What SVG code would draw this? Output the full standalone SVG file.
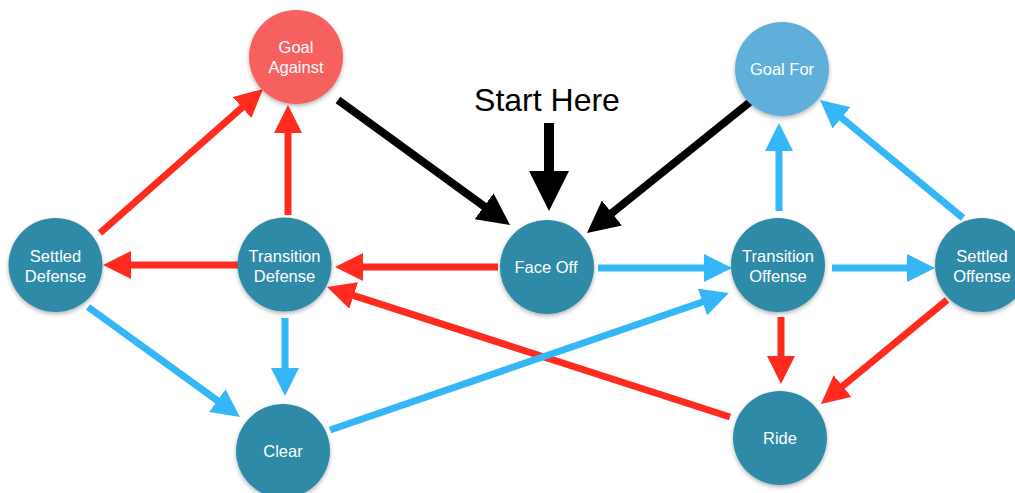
<svg xmlns="http://www.w3.org/2000/svg" width="1015" height="493" viewBox="0 0 1015 493">
<style>
.node{fill:#2f8aa7;filter:url(#sh)}
.lbl{font-family:"Liberation Sans",Arial,sans-serif;font-size:16.5px;fill:#fff;text-anchor:middle}
.red{stroke:#ff2b1f;stroke-width:7;fill:none;marker-end:url(#hr)}
.blue{stroke:#34b6f7;stroke-width:7;fill:none;marker-end:url(#hb)}
.blk{stroke:#000;stroke-width:8;fill:none;marker-end:url(#hk)}
</style>
<defs>
<filter id="sh" x="-20%" y="-20%" width="140%" height="150%">
<feDropShadow dx="0" dy="2" stdDeviation="2" flood-color="#000" flood-opacity="0.3"/>
</filter>
<marker id="hr" viewBox="0 0 4 4" refX="1" refY="2" markerWidth="4" markerHeight="4" markerUnits="strokeWidth" orient="auto"><path d="M0,0L4,2L0,4z" fill="#ff2b1f"/></marker>
<marker id="hb" viewBox="0 0 4 4" refX="1" refY="2" markerWidth="4" markerHeight="4" markerUnits="strokeWidth" orient="auto"><path d="M0,0L4,2L0,4z" fill="#34b6f7"/></marker>
<marker id="hk" viewBox="0 0 4 4" refX="1" refY="2" markerWidth="4" markerHeight="4" markerUnits="strokeWidth" orient="auto"><path d="M0,0L4,2L0,4z" fill="#000"/></marker>
</defs>
<g id="connectors">
<line class="red" x1="100" y1="233" x2="247.3" y2="102.9"/>
<line class="red" x1="288" y1="215" x2="288" y2="126"/>
<line class="red" x1="238" y1="265" x2="124" y2="265"/>
<line class="red" x1="498" y1="267" x2="356" y2="267"/>
<line class="red" x1="730" y1="417" x2="347" y2="293.4"/>
<line class="red" x1="781" y1="317" x2="781" y2="363"/>
<line class="red" x1="947" y1="300" x2="837.2" y2="390.6"/>
<line class="blue" x1="779" y1="211" x2="779" y2="144"/>
<line class="blue" x1="963" y1="218" x2="836.2" y2="113.4"/>
<line class="blue" x1="598" y1="268" x2="711" y2="268"/>
<line class="blue" x1="832" y1="268" x2="914" y2="268"/>
<line class="blue" x1="330" y1="430" x2="709.1" y2="299.8"/>
<line class="blue" x1="285" y1="318" x2="285" y2="375"/>
<line class="blue" x1="88" y1="307" x2="223" y2="404.7"/>
<line class="blk" x1="338" y1="100" x2="490.6" y2="210.9"/>
<line class="blk" x1="750" y1="102" x2="605.7" y2="218"/>
<line class="blk" style="stroke-width:10" x1="549" y1="123" x2="549" y2="181"/>
</g>
<g id="start-here"><text x="547" y="111" style="font-family:'Liberation Sans',Arial,sans-serif;font-size:32px;fill:#000;text-anchor:middle">Start Here</text></g>
<g id="goal-against"><circle class="node" style="fill:#f6605f" cx="296" cy="57" r="47"/><text class="lbl" x="296" y="53">Goal</text><text class="lbl" x="296" y="73">Against</text></g>
<g id="goal-for"><circle class="node" style="fill:#60afdb" cx="782" cy="69" r="47"/><text class="lbl" x="782" y="75">Goal For</text></g>
<g id="settled-defense"><circle class="node" cx="55.5" cy="265" r="47"/><text class="lbl" x="55.5" y="262">Settled</text><text class="lbl" x="55.5" y="282">Defense</text></g>
<g id="transition-defense"><circle class="node" cx="284.5" cy="264.5" r="47"/><text class="lbl" x="284.5" y="261.5">Transition</text><text class="lbl" x="284.5" y="281.5">Defense</text></g>
<g id="face-off"><circle class="node" cx="547" cy="267" r="47"/><text class="lbl" x="546" y="273">Face Off</text></g>
<g id="transition-offense"><circle class="node" cx="778" cy="265" r="47"/><text class="lbl" x="778" y="262">Transition</text><text class="lbl" x="778" y="282">Offense</text></g>
<g id="settled-offense"><circle class="node" cx="982" cy="265" r="47"/><text class="lbl" x="982" y="262">Settled</text><text class="lbl" x="982" y="282">Offense</text></g>
<g id="clear"><circle class="node" cx="283" cy="451" r="47"/><text class="lbl" x="283" y="457">Clear</text></g>
<g id="ride"><circle class="node" cx="780" cy="438" r="47"/><text class="lbl" x="780" y="444">Ride</text></g>
</svg>
